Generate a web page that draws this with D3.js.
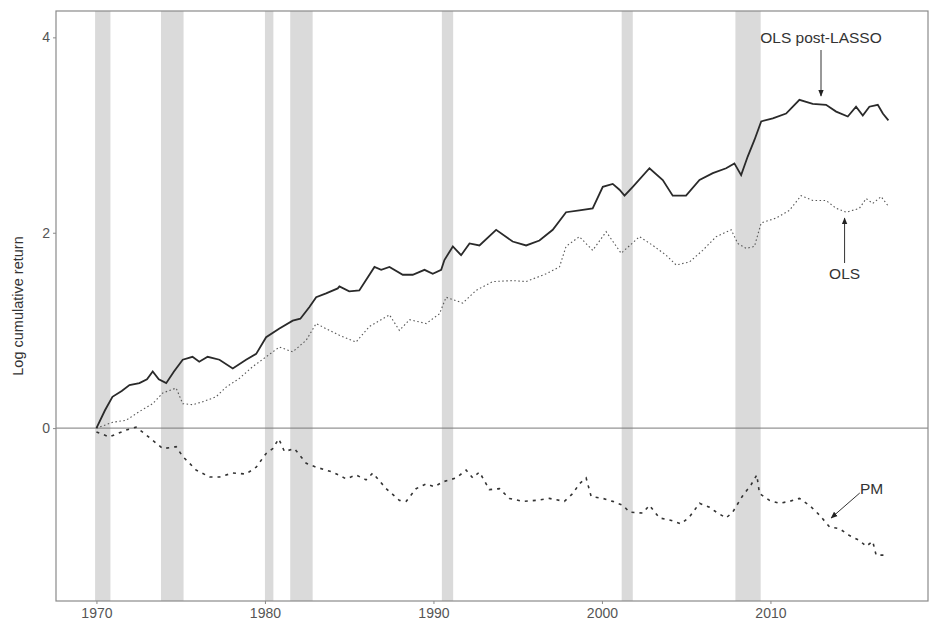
<!DOCTYPE html>
<html><head><meta charset="utf-8">
<script src="https://cdn.jsdelivr.net/npm/d3@7"></script>
<style>body{margin:0;background:#fff;} text{font-family:"Liberation Sans",Arial,sans-serif;}</style>
</head><body><svg id="c" width="936" height="633"></svg>
<script>
// NBER recessions (decimal years)
const recStart = [1969.92, 1973.83, 1980.0, 1981.5, 1990.5, 2001.17, 2007.92];
const recEnd   = [1970.83, 1975.17, 1980.5, 1982.83, 1991.17, 2001.83, 2009.42];

const xTicks = [1970, 1980, 1990, 2000, 2010];
const yTicks = [0, 2, 4];

// OLS post-LASSO (solid)
const lassoT = [1970.0,1970.5,1970.95,1971.5,1971.96,1972.55,1973.0,1973.34,1973.7,1974.14,1974.6,1975.12,1975.7,1976.1,1976.6,1977.3,1978.09,1978.88,1979.48,1980.07,1980.86,1981.65,1982.1,1982.64,1983.04,1983.63,1984.32,1984.42,1985.0,1985.6,1986.5,1986.9,1987.39,1988.18,1988.77,1989.47,1989.96,1990.46,1990.65,1991.15,1991.64,1992.14,1992.73,1993.72,1994.7,1995.5,1996.29,1997.08,1997.87,1998.66,1999.45,2000.05,2000.64,2001.04,2001.34,2001.83,2002.82,2003.61,2004.2,2004.99,2005.79,2006.58,2007.37,2007.86,2008.26,2008.65,2009.05,2009.45,2010.14,2010.93,2011.72,2012.51,2013.3,2013.9,2014.59,2015.08,2015.48,2015.87,2016.37,2016.67,2017.0];
const lassoV = [0.0,0.18,0.32,0.38,0.44,0.46,0.5,0.58,0.5,0.46,0.58,0.70,0.73,0.68,0.73,0.70,0.61,0.70,0.76,0.93,1.02,1.10,1.12,1.24,1.34,1.38,1.43,1.45,1.40,1.41,1.65,1.62,1.65,1.57,1.57,1.62,1.58,1.62,1.72,1.86,1.77,1.89,1.87,2.03,1.91,1.87,1.92,2.03,2.21,2.23,2.25,2.47,2.50,2.44,2.38,2.47,2.66,2.54,2.38,2.38,2.54,2.61,2.66,2.71,2.59,2.78,2.95,3.14,3.17,3.22,3.36,3.32,3.31,3.24,3.19,3.29,3.20,3.29,3.31,3.22,3.15];

// OLS (dotted)
const olsT = [1970.0,1970.97,1971.76,1972.55,1973.34,1973.94,1974.73,1975.12,1975.72,1976.31,1977.10,1977.7,1978.49,1979.28,1980.07,1980.86,1981.65,1982.45,1983.04,1983.83,1984.42,1985.4,1986.2,1987.39,1987.98,1988.58,1989.57,1990.36,1990.75,1991.74,1992.53,1993.52,1994.71,1995.5,1996.69,1997.48,1997.87,1998.66,1999.45,2000.25,2001.14,2002.23,2003.02,2003.81,2004.4,2005.19,2005.98,2006.78,2007.67,2008.06,2008.56,2009.05,2009.45,2010.34,2011.13,2011.82,2012.51,2013.3,2013.9,2014.5,2015.28,2015.68,2016.07,2016.57,2016.96];
const olsV = [0.0,0.06,0.08,0.17,0.25,0.36,0.41,0.25,0.24,0.27,0.32,0.42,0.51,0.63,0.73,0.83,0.78,0.90,1.07,1.00,0.95,0.88,1.04,1.16,1.00,1.11,1.07,1.17,1.34,1.28,1.41,1.50,1.51,1.50,1.58,1.65,1.86,1.96,1.82,2.01,1.79,1.96,1.87,1.77,1.67,1.70,1.82,1.96,2.03,1.89,1.84,1.86,2.10,2.15,2.23,2.38,2.33,2.33,2.25,2.21,2.25,2.35,2.30,2.37,2.28];

// PM (dashed)
const pmT = [1970.0,1970.77,1971.76,1972.35,1972.95,1973.94,1974.73,1975.12,1975.92,1976.71,1977.3,1978.09,1978.88,1979.48,1980.07,1980.46,1980.82,1981.16,1981.75,1982.45,1983.04,1984.02,1984.82,1985.41,1986.0,1986.4,1987.19,1987.98,1988.38,1988.97,1989.57,1990.06,1990.56,1991.35,1991.94,1992.33,1992.73,1993.32,1993.92,1994.51,1995.3,1996.1,1996.88,1997.77,1998.27,1998.66,1999.06,1999.36,2000.05,2000.64,2001.24,2001.63,2002.42,2002.82,2003.41,2004.01,2004.7,2005.19,2005.79,2006.38,2006.87,2007.37,2007.76,2008.36,2008.85,2009.19,2009.35,2009.94,2010.53,2011.13,2011.72,2012.31,2012.91,2013.5,2014.1,2014.69,2015.28,2015.68,2016.07,2016.27,2016.86];
const pmV = [-0.04,-0.09,-0.02,0.01,-0.07,-0.21,-0.19,-0.29,-0.43,-0.50,-0.50,-0.46,-0.47,-0.40,-0.26,-0.21,-0.11,-0.24,-0.21,-0.36,-0.40,-0.45,-0.52,-0.48,-0.53,-0.46,-0.62,-0.74,-0.75,-0.62,-0.57,-0.60,-0.55,-0.51,-0.43,-0.51,-0.45,-0.63,-0.62,-0.72,-0.75,-0.74,-0.72,-0.75,-0.67,-0.57,-0.51,-0.70,-0.72,-0.75,-0.79,-0.86,-0.87,-0.79,-0.92,-0.94,-0.98,-0.91,-0.77,-0.81,-0.87,-0.92,-0.86,-0.69,-0.58,-0.48,-0.67,-0.74,-0.77,-0.75,-0.72,-0.79,-0.89,-1.01,-1.03,-1.10,-1.15,-1.21,-1.16,-1.30,-1.30];

const labels = ["OLS post-LASSO", "OLS", "PM"];

const svg = d3.select("#c");
const L = 56, R = 928, T = 11, B = 601;
const x = d3.scaleLinear().domain([1967.6, 2019.35]).range([L, R]);
const y = d3.scaleLinear().domain([-1.77, 4.27]).range([B, T]);

// recession bands
svg.append("g").selectAll("rect").data(recStart).join("rect")
  .attr("x", (d) => x(d)).attr("y", T)
  .attr("width", (d, i) => x(recEnd[i]) - x(d)).attr("height", B - T)
  .attr("fill", "#dadada");

// zero line
svg.append("line").attr("x1", L).attr("x2", R).attr("y1", y(0)).attr("y2", y(0))
  .attr("stroke", "#7a7a7a").attr("stroke-width", 1);

const line = d3.line().x(d => x(d[0])).y(d => y(d[1]));
const mk = (t, v) => t.map((d, i) => [d, v[i]]);

svg.append("path").datum(mk(olsT, olsV)).attr("d", line).attr("fill", "none")
  .attr("stroke", "#555").attr("stroke-width", 1.1).attr("stroke-dasharray", "1.5,2.5");
svg.append("path").datum(mk(pmT, pmV)).attr("d", line).attr("fill", "none")
  .attr("stroke", "#333").attr("stroke-width", 1.6).attr("stroke-dasharray", "3,5");
svg.append("path").datum(mk(lassoT, lassoV)).attr("d", line).attr("fill", "none")
  .attr("stroke", "#2a2a2a").attr("stroke-width", 1.8);

// panel border
svg.append("rect").attr("x", L).attr("y", T).attr("width", R - L).attr("height", B - T)
  .attr("fill", "none").attr("stroke", "#8a8a8a").attr("stroke-width", 1.2);

// axes
const xa = svg.append("g").attr("transform", `translate(0,${B})`)
  .call(d3.axisBottom(x).tickValues(xTicks).tickFormat(d3.format("d")).tickSize(3).tickPadding(4));
const ya = svg.append("g").attr("transform", `translate(${L},0)`)
  .call(d3.axisLeft(y).tickValues(yTicks).tickFormat(d3.format("d")).tickSize(3).tickPadding(3));
[xa, ya].forEach(a => {
  a.select(".domain").remove();
  a.selectAll("line").attr("stroke", "#8a8a8a");
  a.selectAll("text").attr("fill", "#555").style("font-size", "14px")
    .style("font-family", "'Liberation Sans',Arial,sans-serif");
});

svg.append("text").attr("transform", "translate(23,306) rotate(-90)")
  .attr("text-anchor", "middle").attr("fill", "#333").style("font-size", "14.5px")
  .text("Log cumulative return");

// annotations
svg.append("defs").append("marker").attr("id", "ah").attr("viewBox", "0 0 10 10")
  .attr("refX", 9).attr("refY", 5).attr("markerWidth", 7).attr("markerHeight", 7)
  .attr("orient", "auto").append("path").attr("d", "M0,1L10,5L0,9Z").attr("fill", "#222");

const ann = svg.append("g").style("font-size", "15.5px");
ann.append("text").attr("x", x(2013.0)).attr("y", 43).attr("text-anchor", "middle").attr("fill", "#333").text(labels[0]);
ann.append("line").attr("x1", x(2013.0)).attr("x2", x(2013.0)).attr("y1", 50).attr("y2", y(3.4))
  .attr("stroke", "#333").attr("stroke-width", 1).attr("marker-end", "url(#ah)");
ann.append("text").attr("x", x(2014.4)).attr("y", 279).attr("text-anchor", "middle").attr("fill", "#333").text(labels[1]);
ann.append("line").attr("x1", x(2014.4)).attr("x2", x(2014.4)).attr("y1", 263).attr("y2", y(2.15))
  .attr("stroke", "#333").attr("stroke-width", 1).attr("marker-end", "url(#ah)");
ann.append("text").attr("x", x(2016.0)).attr("y", 494).attr("text-anchor", "middle").attr("fill", "#333").text(labels[2]);
ann.append("line").attr("x1", x(2015.3)).attr("x2", x(2013.6)).attr("y1", 493).attr("y2", y(-0.92))
  .attr("stroke", "#333").attr("stroke-width", 1).attr("marker-end", "url(#ah)");
</script></body></html>
